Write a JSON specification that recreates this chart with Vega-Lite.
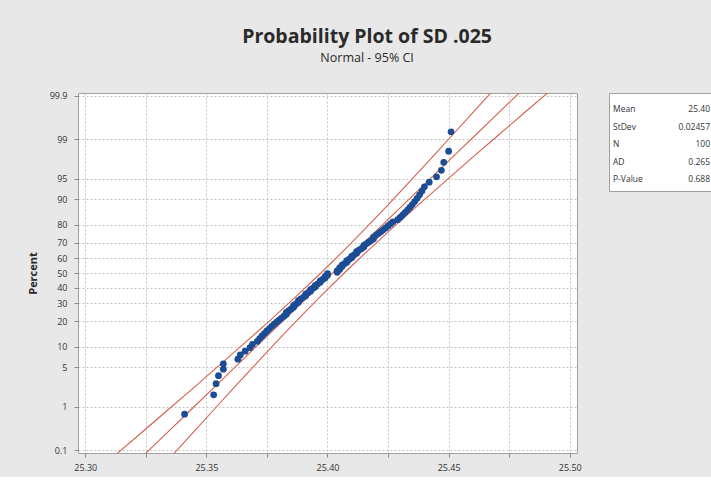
{
  "$schema": "https://vega.github.io/schema/vega-lite/v6.json",
  "background": "#e8e8e8",
  "padding": {"left": 26, "top": 27, "right": 1, "bottom": 4},
  "config": {
    "font": "Open Sans",
    "view": {"fill": "white", "stroke": "#a0a0a0"}
  },
  "title": {
    "text": "Probability Plot of SD .025",
    "subtitle": "Normal - 95% CI",
    "fontSize": 19.5,
    "fontWeight": "bold",
    "color": "#2a2a2a",
    "subtitleFontSize": 12.5,
    "subtitleColor": "#2a2a2a",
    "subtitlePadding": 4,
    "anchor": "middle",
    "offset": 26,
    "dx": -3
  },
  "datasets": {
    "points": [
      {"x": 25.341, "percent": 0.697}, {"x": 25.353, "percent": 1.693}, {"x": 25.354, "percent": 2.689}, {"x": 25.355, "percent": 3.685}, {"x": 25.357, "percent": 4.681},
      {"x": 25.357, "percent": 5.677}, {"x": 25.363, "percent": 6.673}, {"x": 25.364, "percent": 7.669}, {"x": 25.366, "percent": 8.665}, {"x": 25.368, "percent": 9.661},
      {"x": 25.369, "percent": 10.657}, {"x": 25.371, "percent": 11.653}, {"x": 25.372, "percent": 12.649}, {"x": 25.373, "percent": 13.645}, {"x": 25.374, "percent": 14.641},
      {"x": 25.375, "percent": 15.637}, {"x": 25.376, "percent": 16.633}, {"x": 25.377, "percent": 17.629}, {"x": 25.378, "percent": 18.625}, {"x": 25.379, "percent": 19.622},
      {"x": 25.380, "percent": 20.618}, {"x": 25.381, "percent": 21.614}, {"x": 25.382, "percent": 22.610}, {"x": 25.383, "percent": 23.606}, {"x": 25.383, "percent": 24.602},
      {"x": 25.384, "percent": 25.598}, {"x": 25.385, "percent": 26.594}, {"x": 25.386, "percent": 27.590}, {"x": 25.386, "percent": 28.586}, {"x": 25.387, "percent": 29.582},
      {"x": 25.388, "percent": 30.578}, {"x": 25.388, "percent": 31.574}, {"x": 25.389, "percent": 32.570}, {"x": 25.390, "percent": 33.566}, {"x": 25.391, "percent": 34.562},
      {"x": 25.391, "percent": 35.558}, {"x": 25.392, "percent": 36.554}, {"x": 25.393, "percent": 37.550}, {"x": 25.393, "percent": 38.546}, {"x": 25.394, "percent": 39.542},
      {"x": 25.395, "percent": 40.538}, {"x": 25.395, "percent": 41.534}, {"x": 25.396, "percent": 42.530}, {"x": 25.397, "percent": 43.526}, {"x": 25.397, "percent": 44.522},
      {"x": 25.398, "percent": 45.518}, {"x": 25.399, "percent": 46.514}, {"x": 25.399, "percent": 47.510}, {"x": 25.400, "percent": 48.506}, {"x": 25.400, "percent": 49.502},
      {"x": 25.404, "percent": 50.498}, {"x": 25.404, "percent": 51.494}, {"x": 25.405, "percent": 52.490}, {"x": 25.405, "percent": 53.486}, {"x": 25.406, "percent": 54.482},
      {"x": 25.406, "percent": 55.478}, {"x": 25.407, "percent": 56.474}, {"x": 25.408, "percent": 57.470}, {"x": 25.408, "percent": 58.466}, {"x": 25.409, "percent": 59.462},
      {"x": 25.410, "percent": 60.458}, {"x": 25.410, "percent": 61.454}, {"x": 25.411, "percent": 62.450}, {"x": 25.412, "percent": 63.446}, {"x": 25.412, "percent": 64.442},
      {"x": 25.413, "percent": 65.438}, {"x": 25.414, "percent": 66.434}, {"x": 25.415, "percent": 67.430}, {"x": 25.415, "percent": 68.426}, {"x": 25.416, "percent": 69.422},
      {"x": 25.417, "percent": 70.418}, {"x": 25.418, "percent": 71.414}, {"x": 25.419, "percent": 72.410}, {"x": 25.419, "percent": 73.406}, {"x": 25.420, "percent": 74.402},
      {"x": 25.421, "percent": 75.398}, {"x": 25.422, "percent": 76.394}, {"x": 25.423, "percent": 77.390}, {"x": 25.424, "percent": 78.386}, {"x": 25.425, "percent": 79.382},
      {"x": 25.426, "percent": 80.378}, {"x": 25.427, "percent": 81.375}, {"x": 25.429, "percent": 82.371}, {"x": 25.430, "percent": 83.367}, {"x": 25.431, "percent": 84.363},
      {"x": 25.432, "percent": 85.359}, {"x": 25.433, "percent": 86.355}, {"x": 25.434, "percent": 87.351}, {"x": 25.435, "percent": 88.347}, {"x": 25.436, "percent": 89.343},
      {"x": 25.437, "percent": 90.339}, {"x": 25.438, "percent": 91.335}, {"x": 25.439, "percent": 92.331}, {"x": 25.440, "percent": 93.327}, {"x": 25.442, "percent": 94.323},
      {"x": 25.445, "percent": 95.319}, {"x": 25.447, "percent": 96.315}, {"x": 25.448, "percent": 97.311}, {"x": 25.450, "percent": 98.307}, {"x": 25.451, "percent": 99.303}
    ],
    "lines": [
      {"series": "fit", "percent": 0.0687, "x": 25.3235}, {"series": "fit", "percent": 0.2555, "x": 25.3334}, {"series": "fit", "percent": 0.8198, "x": 25.3432},
      {"series": "fit", "percent": 2.275, "x": 25.3530}, {"series": "fit", "percent": 5.4799, "x": 25.3628}, {"series": "fit", "percent": 11.507, "x": 25.3726},
      {"series": "fit", "percent": 21.186, "x": 25.3825}, {"series": "fit", "percent": 34.458, "x": 25.3923}, {"series": "fit", "percent": 50, "x": 25.4021},
      {"series": "fit", "percent": 65.542, "x": 25.4119}, {"series": "fit", "percent": 78.814, "x": 25.4217}, {"series": "fit", "percent": 88.493, "x": 25.4316},
      {"series": "fit", "percent": 94.520, "x": 25.4414}, {"series": "fit", "percent": 97.725, "x": 25.4512}, {"series": "fit", "percent": 99.180, "x": 25.4610},
      {"series": "fit", "percent": 99.7445, "x": 25.4708}, {"series": "fit", "percent": 99.9313, "x": 25.4807},
      {"series": "lower", "percent": 0.0687, "x": 25.3116}, {"series": "lower", "percent": 0.2555, "x": 25.3227}, {"series": "lower", "percent": 0.8198, "x": 25.3337},
      {"series": "lower", "percent": 2.275, "x": 25.3447}, {"series": "lower", "percent": 5.4799, "x": 25.3555}, {"series": "lower", "percent": 11.507, "x": 25.3663},
      {"series": "lower", "percent": 21.186, "x": 25.3770}, {"series": "lower", "percent": 34.458, "x": 25.3873}, {"series": "lower", "percent": 50, "x": 25.3973},
      {"series": "lower", "percent": 65.542, "x": 25.4069}, {"series": "lower", "percent": 78.814, "x": 25.4162}, {"series": "lower", "percent": 88.493, "x": 25.4253},
      {"series": "lower", "percent": 94.520, "x": 25.4341}, {"series": "lower", "percent": 97.725, "x": 25.4429}, {"series": "lower", "percent": 99.180, "x": 25.4515},
      {"series": "lower", "percent": 99.7445, "x": 25.4601}, {"series": "lower", "percent": 99.9313, "x": 25.4688},
      {"series": "upper", "percent": 0.0687, "x": 25.3354}, {"series": "upper", "percent": 0.2555, "x": 25.3441}, {"series": "upper", "percent": 0.8198, "x": 25.3527},
      {"series": "upper", "percent": 2.275, "x": 25.3613}, {"series": "upper", "percent": 5.4799, "x": 25.3701}, {"series": "upper", "percent": 11.507, "x": 25.3789},
      {"series": "upper", "percent": 21.186, "x": 25.3880}, {"series": "upper", "percent": 34.458, "x": 25.3973}, {"series": "upper", "percent": 50, "x": 25.4069},
      {"series": "upper", "percent": 65.542, "x": 25.4169}, {"series": "upper", "percent": 78.814, "x": 25.4272}, {"series": "upper", "percent": 88.493, "x": 25.4379},
      {"series": "upper", "percent": 94.520, "x": 25.4487}, {"series": "upper", "percent": 97.725, "x": 25.4595}, {"series": "upper", "percent": 99.180, "x": 25.4705},
      {"series": "upper", "percent": 99.7445, "x": 25.4815}, {"series": "upper", "percent": 99.9313, "x": 25.4926}
    ],
    "stats": [
      {"stat": "Mean", "value": "25.40"},
      {"stat": "StDev", "value": "0.02457"},
      {"stat": "N", "value": "100"},
      {"stat": "AD", "value": "0.265"},
      {"stat": "P-Value", "value": "0.688"}
    ]
  },
  "hconcat": [
    {
      "width": 499,
      "height": 360,
      "encoding": {
        "x": {
          "field": "x",
          "type": "quantitative",
          "scale": {"domain": [25.297, 25.503], "nice": false, "zero": false},
          "axis": {
            "title": null,
            "values": [25.3, 25.325, 25.35, 25.375, 25.4, 25.425, 25.45, 25.475, 25.5],
            "labelExpr": "(round(datum.value*1000) % 50 == 0) ? format(datum.value, '.2f') : ''",
            "grid": true,
            "gridDash": [2, 2],
            "gridColor": "#c4c4c4",
            "domain": false,
            "tickColor": "#8a8a8a",
            "tickSize": 4,
            "labelFontSize": 9,
            "labelColor": "#333333",
            "labelPadding": 6
          }
        },
        "y": {
          "field": "z",
          "type": "quantitative",
          "scale": {"domain": [-3.136, 3.136], "nice": false, "zero": false},
          "axis": {
            "title": "Percent",
            "titleFontSize": 11,
            "titleFontWeight": "bold",
            "titleColor": "#2a2a2a",
            "titlePadding": 11,
            "values": [-3.0902, -2.3263, -1.6449, -1.2816, -0.8416, -0.5244, -0.2533, 0, 0.2533, 0.5244, 0.8416, 1.2816, 1.6449, 2.3263, 3.0902],
            "labelExpr": "format(cumulativeNormal(datum.value)*100, '.1~f')",
            "grid": true,
            "gridDash": [2, 2],
            "gridColor": "#c4c4c4",
            "domain": false,
            "tickColor": "#8a8a8a",
            "tickSize": 4,
            "labelFontSize": 9,
            "labelColor": "#333333",
            "labelPadding": 7
          }
        }
      },
      "layer": [
        {
          "data": {"name": "lines"},
          "transform": [{"calculate": "quantileNormal(datum.percent/100)", "as": "z"}],
          "mark": {"type": "line", "clip": true, "strokeWidth": 1.1},
          "encoding": {
            "detail": {"field": "series", "type": "nominal"},
            "color": {"value": "#d5604f"}
          }
        },
        {
          "data": {"name": "points"},
          "transform": [{"calculate": "quantileNormal(datum.percent/100)", "as": "z"}],
          "mark": {"type": "circle", "size": 46, "opacity": 1},
          "encoding": {"color": {"value": "#1c4c94"}}
        }
      ]
    },
    {
      "width": 104,
      "height": 98,
      "data": {"name": "stats"},
      "encoding": {
        "y": {
          "field": "stat",
          "type": "nominal",
          "sort": null,
          "scale": {"type": "point", "domain": ["Mean", "StDev", "N", "AD", "P-Value"], "range": [16, 86], "padding": 0},
          "axis": null
        }
      },
      "layer": [
        {
          "mark": {"type": "text", "align": "left", "baseline": "middle", "fontSize": 8.5, "color": "#333333"},
          "encoding": {
            "x": {"datum": "label", "type": "nominal", "scale": {"type": "point", "domain": ["label", "value"], "range": [4, 101], "padding": 0}, "axis": null},
            "text": {"field": "stat"}
          }
        },
        {
          "mark": {"type": "text", "align": "right", "baseline": "middle", "fontSize": 8.5, "color": "#333333"},
          "encoding": {
            "x": {"datum": "value", "type": "nominal", "scale": {"type": "point", "domain": ["label", "value"], "range": [4, 101], "padding": 0}, "axis": null},
            "text": {"field": "value"}
          }
        }
      ]
    }
  ],
  "spacing": 26
}
